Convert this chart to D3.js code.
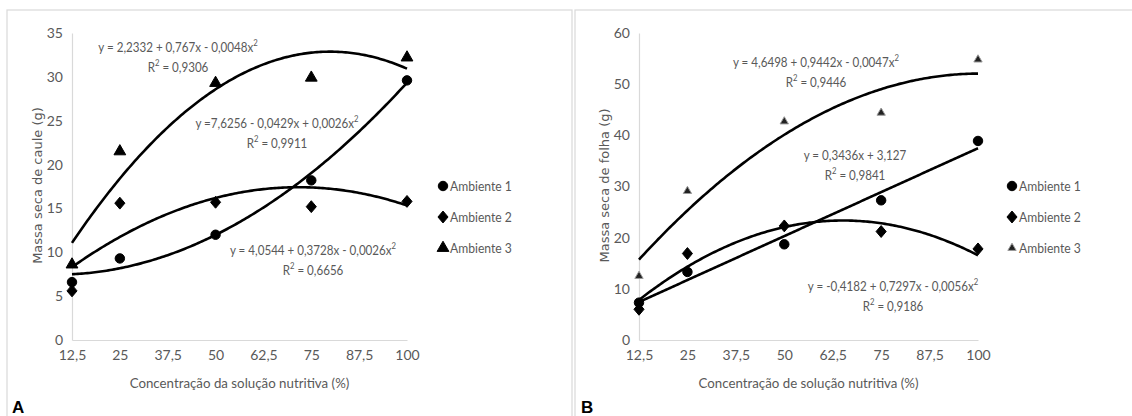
<!DOCTYPE html>
<html>
<head>
<meta charset="utf-8">
<script src="https://cdn.jsdelivr.net/npm/d3@7"></script>
<style>
  body { margin: 0; background: #fff; }
  svg { display: block; }
</style>
</head>
<body>
<div id="chart"></div>
<script>
// Massa seca de caule (A) e de folha (B) por concentração da solução nutritiva

const xTicks = [12.5, 25, 37.5, 50, 62.5, 75, 87.5, 100];
const doses = [12.5, 25, 50, 75, 100];
const ambientes = ["Ambiente 1", "Ambiente 2", "Ambiente 3"];

// painel A - caule
const caule1 = [6.6, 9.3, 12.0, 18.2, 29.6];
const caule2 = [5.6, 15.6, 15.7, 15.2, 15.8];
const caule3 = [8.6, 21.5, 29.3, 29.9, 32.2];
const cauleTicks = [0, 5, 10, 15, 20, 25, 30, 35];
// coeficientes das linhas de tendência [a, b, c] -> a + b*x + c*x²
const coefCaule1 = [7.6256, -0.0429, 0.0026];
const coefCaule2 = [4.0544, 0.3728, -0.0026];
const coefCaule3 = [2.2332, 0.767, -0.0048];
const eqCaule = ["y =7,6256 - 0,0429x + 0,0026x²", "y = 4,0544 + 0,3728x - 0,0026x²", "y = 2,2332 + 0,767x - 0,0048x²"];
const r2Caule = ["0,9911", "0,6656", "0,9306"];

// painel B - folha
const folha1 = [7.3, 13.3, 18.7, 27.3, 38.9];
const folha2 = [6.0, 16.9, 22.3, 21.2, 17.8];
const folha3 = [12.5, 29.1, 42.7, 44.4, 54.8];
const folhaTicks = [0, 10, 20, 30, 40, 50, 60];
const coefFolha1 = [3.127, 0.3436, 0];
const coefFolha2 = [-0.4182, 0.7297, -0.0056];
const coefFolha3 = [4.6498, 0.9442, -0.0047];
const eqFolha = ["y = 0,3436x + 3,127", "y = -0,4182 + 0,7297x - 0,0056x²", "y = 4,6498 + 0,9442x - 0,0047x²"];
const r2Folha = ["0,9841", "0,9186", "0,9446"];

const W = 1132, H = 416;
const FONT = "Lato, 'Open Sans', sans-serif";
const FS = 13.5;
const GREY = "#595959";

const ptBR = d3.formatLocale({ decimal: ",", thousands: ".", grouping: [3], currency: ["R$", ""] });
const fmt = ptBR.format("~g");

// losango mais largo que o d3.symbolDiamond
const wideDiamond = {
  draw(ctx, size) {
    const h = Math.sqrt(size / 1.7);
    const w = h * 0.85;
    ctx.moveTo(0, -h);
    ctx.lineTo(w, 0);
    ctx.lineTo(0, h);
    ctx.lineTo(-w, 0);
    ctx.closePath();
  }
};
const symbols = [d3.symbolCircle, wideDiamond, d3.symbolTriangle];

const svg = d3.select("#chart").append("svg")
  .attr("width", W)
  .attr("height", H);

function addSup(textEl, str) {
  const parts = str.split("²");
  textEl.append("tspan").text(parts[0]);
  if (parts.length > 1) {
    textEl.append("tspan").attr("font-size", 9).attr("dy", -6).text("2");
    if (parts[1]) textEl.append("tspan").attr("dy", 6).text(parts[1]);
  }
}

// texto estreito (imita a fonte condensada do original)
function narrowText(parent, px, py, sx, anchor) {
  return parent.append("text")
    .attr("transform", `translate(${px},${py}) scale(${sx},1)`)
    .attr("text-anchor", anchor)
    .attr("font-family", FONT).attr("font-size", FS).attr("fill", GREY);
}

function drawPanel(cfg) {
  const g = svg.append("g");

  // moldura do painel
  g.append("rect")
    .attr("x", cfg.box[0]).attr("y", cfg.box[1])
    .attr("width", cfg.box[2]).attr("height", cfg.box[3])
    .attr("fill", "none").attr("stroke", "#d9d9d9").attr("stroke-width", 1.2);

  const x = d3.scaleLinear().domain([12.5, 100]).range(cfg.xr);
  const y = d3.scaleLinear().domain([0, d3.max(cfg.yTicks)]).range([340, 33]);

  const yAxis = d3.axisLeft(y).tickValues(cfg.yTicks).tickSize(0).tickPadding(9).tickFormat(fmt);
  const xAxis = d3.axisBottom(x).tickValues(xTicks).tickSize(0).tickPadding(10).tickFormat(fmt);

  const ya = g.append("g").attr("transform", `translate(${cfg.xr[0]},0)`).call(yAxis);
  const xa = g.append("g").attr("transform", `translate(0,${y(0)})`).call(xAxis);
  [ya, xa].forEach(a => {
    a.select(".domain").attr("stroke", "#d9d9d9").attr("stroke-width", 1.2);
    a.selectAll("text").attr("font-family", FONT).attr("font-size", 14).attr("fill", GREY);
  });

  // títulos dos eixos
  narrowText(g, (cfg.xr[0] + cfg.xr[1]) / 2, 388, 0.95, "middle")
    .attr("font-size", 14)
    .text(cfg.xTitle);

  g.append("text")
    .attr("transform", `translate(${cfg.yTitleX},${(33 + 340) / 2 - 1}) rotate(-90)`)
    .attr("text-anchor", "middle")
    .attr("font-family", "'DejaVu Sans', sans-serif").attr("font-size", 13).attr("fill", GREY)
    .text(cfg.yTitle);

  // letra do painel
  g.append("text")
    .attr("x", cfg.letterX).attr("y", 413)
    .attr("font-family", "'Liberation Sans', sans-serif").attr("font-weight", "bold")
    .attr("font-size", 17).attr("fill", "#000")
    .text(cfg.letter);

  // linhas de tendência
  const line = d3.line().x(d => x(d[0])).y(d => y(d[1]));
  const xs = d3.range(12.5, 100.01, 0.5);
  cfg.coefs.forEach(c => {
    const pts = xs.map(v => [v, c[0] + c[1] * v + c[2] * v * v]);
    g.append("path").datum(pts)
      .attr("d", line)
      .attr("fill", "none").attr("stroke", "#000").attr("stroke-width", 2.6);
  });

  // pontos observados
  cfg.series.forEach((vals, i) => {
    g.selectAll(null)
      .data(vals.map((v, j) => [doses[j], v]))
      .enter().append("path")
      .attr("transform", d => `translate(${x(d[0])},${y(d[1])})`)
      .attr("d", d3.symbol().type(symbols[i]).size(cfg.sizes[i]))
      .attr("fill", cfg.fills[i])
      .attr("stroke", cfg.strokes[i]).attr("stroke-width", 1);
  });

  // equações
  cfg.eqs.forEach((eq, i) => {
    const pos = cfg.eqPos[i];
    addSup(narrowText(g, pos[0], pos[1], 0.86, "middle"), eq);
    addSup(narrowText(g, pos[0], pos[1] + 20, 0.86, "middle"), "R² = " + cfg.r2[i]);
  });

  // legenda
  ambientes.forEach((name, i) => {
    const ly = 186 + i * 31;
    g.append("path")
      .attr("transform", `translate(${cfg.legX},${ly})`)
      .attr("d", d3.symbol().type(symbols[i]).size(cfg.sizes[i]))
      .attr("fill", cfg.fills[i]).attr("stroke", cfg.strokes[i]).attr("stroke-width", 1);
    narrowText(g, cfg.legX + 7, ly, 0.9, "start")
      .attr("dy", "0.35em")
      .text(name);
  });
}

drawPanel({
  box: [7, 10, 565, 420],
  xr: [72, 407],
  yTicks: cauleTicks,
  series: [caule1, caule2, caule3],
  coefs: [coefCaule1, coefCaule2, coefCaule3],
  eqs: eqCaule,
  r2: r2Caule,
  eqPos: [[277, 128], [313, 255], [178, 52]],
  sizes: [70, 60, 60],
  fills: ["#000", "#000", "#000"],
  strokes: ["#000", "#000", "#000"],
  xTitle: "Concentração da solução nutritiva (%)",
  yTitle: "Massa seca de caule (g)",
  yTitleX: 42,
  letter: "A",
  letterX: 12,
  legX: 443
});

drawPanel({
  box: [575, 10, 600, 420],
  xr: [639, 978],
  yTicks: folhaTicks,
  series: [folha1, folha2, folha3],
  coefs: [coefFolha1, coefFolha2, coefFolha3],
  eqs: eqFolha,
  r2: r2Folha,
  eqPos: [[855, 160], [893, 291], [816, 67]],
  sizes: [70, 60, 30],
  fills: ["#000", "#000", "#222"],
  strokes: ["#000", "#000", "#9a9a9a"],
  xTitle: "Concentração de solução nutritiva (%)",
  yTitle: "Massa seca de folha (g)",
  yTitleX: 609,
  letter: "B",
  letterX: 581,
  legX: 1012
});
</script>
</body>
</html>
